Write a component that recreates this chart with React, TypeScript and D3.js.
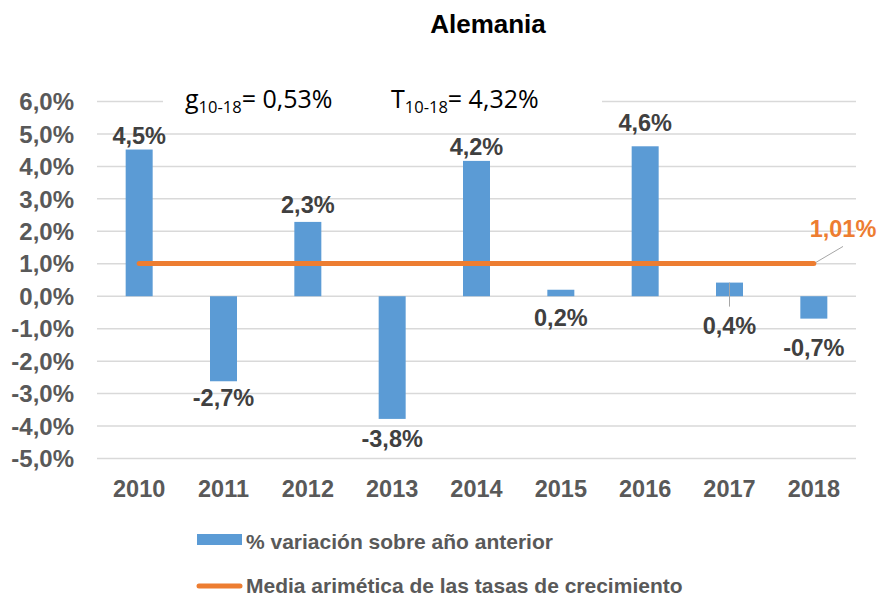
import React from "react";
import * as d3 from "d3";

const years = ["2010", "2011", "2012", "2013", "2014", "2015", "2016", "2017", "2018"];
const variation = [4.52, -2.62, 2.29, -3.78, 4.17, 0.2, 4.62, 0.42, -0.69];
const variationLabels = ["4,5%", "-2,7%", "2,3%", "-3,8%", "4,2%", "0,2%", "4,6%", "0,4%", "-0,7%"];
const meanRate = 1.01;
const meanLabel = "1,01%";
const yTicks = [-5, -4, -3, -2, -1, 0, 1, 2, 3, 4, 5, 6];
const seriesNames = ["% variación sobre año anterior", "Media arimética de las tasas de crecimiento"];
const title = "Alemania";

// layout: label baseline offsets (px) from bar end
const labelDy = [-6, 25, -9, 28, -6, 36, -15, 51, 37];

const W = 880;
const H = 599;
const BLUE = "#5B9BD5";
const ORANGE = "#ED7D31";
const GREY = "#595959";
const DARK = "#404040";
const FONT = "'Liberation Sans', Arial, sans-serif";
const ANNOT_FONT = "'Open Sans', 'Liberation Sans', sans-serif";

export default function App() {
  const x = d3.scaleBand<string>().domain(years).range([97, 856]).padding(0);
  const y = d3.scaleLinear().domain([-5, 6]).range([458.5, 101.5]);
  const bw = 27;
  const fmt = (v: number) => v.toFixed(1).replace(".", ",") + "%";
  const cx = (yr: string) => (x(yr) as number) + x.bandwidth() / 2;

  const meanY = y(meanRate);
  const firstX = cx(years[0]);
  const lastX = cx(years[years.length - 1]);

  return (
    <svg
      width={W}
      height={H}
      style={{ position: "absolute", left: 0, top: 0, background: "#fff" }}
      fontFamily={FONT}
    >
      <rect width={W} height={H} fill="#fff" />
      <text x={488} y={33} textAnchor="middle" fontSize={26} fontWeight="bold" fill="#000">
        {title}
      </text>

      {/* gridlines */}
      {yTicks.map((t) => (
        <line key={t} x1={97} x2={856} y1={y(t)} y2={y(t)} stroke="#d9d9d9" strokeWidth={1.5} />
      ))}
      {yTicks.map((t) => (
        <text
          key={"l" + t}
          x={74}
          y={y(t)}
          dy="0.36em"
          textAnchor="end"
          fontSize={24}
          fontWeight="bold"
          fill={GREY}
        >
          {fmt(t)}
        </text>
      ))}

      {/* annotation box */}
      <rect x={163} y={84} width={439} height={32} fill="#fff" />
      <text x={185} y={108} fontSize={25} fill="#000" fontFamily={ANNOT_FONT}>
        g
        <tspan fontSize={16.5} dy={5}>10-18</tspan>
        <tspan dy={-5}>= 0,53%</tspan>
      </text>
      <text x={391} y={108} fontSize={25} fill="#000" fontFamily={ANNOT_FONT}>
        T
        <tspan fontSize={16.5} dy={5}>10-18</tspan>
        <tspan dy={-5}>= 4,32%</tspan>
      </text>

      {/* bars */}
      {years.map((yr, i) => {
        const v = variation[i];
        const y0 = y(0);
        const y1 = y(v);
        return (
          <rect
            key={yr}
            x={cx(yr) - bw / 2}
            y={Math.min(y0, y1)}
            width={bw}
            height={Math.abs(y1 - y0)}
            fill={BLUE}
          />
        );
      })}

      {/* mean line */}
      <line x1={firstX} x2={lastX} y1={meanY} y2={meanY} stroke={ORANGE} strokeWidth={5} strokeLinecap="round" />

      {/* leader lines */}
      <line x1={cx("2017")} x2={cx("2017")} y1={y(variation[7])} y2={y(variation[7]) + 24} stroke="#a6a6a6" strokeWidth={1} />
      <line x1={lastX + 2} x2={843} y1={meanY - 1} y2={meanY - 17} stroke="#a6a6a6" strokeWidth={1} />

      {/* data labels */}
      {years.map((yr, i) => (
        <text
          key={"d" + yr}
          x={cx(yr)}
          y={y(variation[i]) + labelDy[i]}
          textAnchor="middle"
          fontSize={23.5}
          fontWeight="bold"
          fill={DARK}
        >
          {variationLabels[i]}
        </text>
      ))}
      <text x={843} y={237} textAnchor="middle" fontSize={23.5} fontWeight="bold" fill={ORANGE}>
        {meanLabel}
      </text>

      {/* x axis labels */}
      {years.map((yr) => (
        <text key={"x" + yr} x={cx(yr)} y={497} textAnchor="middle" fontSize={23.5} fontWeight="bold" fill={GREY}>
          {yr}
        </text>
      ))}

      {/* legend */}
      <rect x={197} y={534} width={45} height={11} fill={BLUE} />
      <text x={246} y={549} fontSize={21} fontWeight="bold" fill={GREY}>
        {seriesNames[0]}
      </text>
      <line x1={199} x2={240} y1={586} y2={586} stroke={ORANGE} strokeWidth={5} strokeLinecap="round" />
      <text x={246} y={593} fontSize={21} fontWeight="bold" fill={GREY}>
        {seriesNames[1]}
      </text>
    </svg>
  );
}
